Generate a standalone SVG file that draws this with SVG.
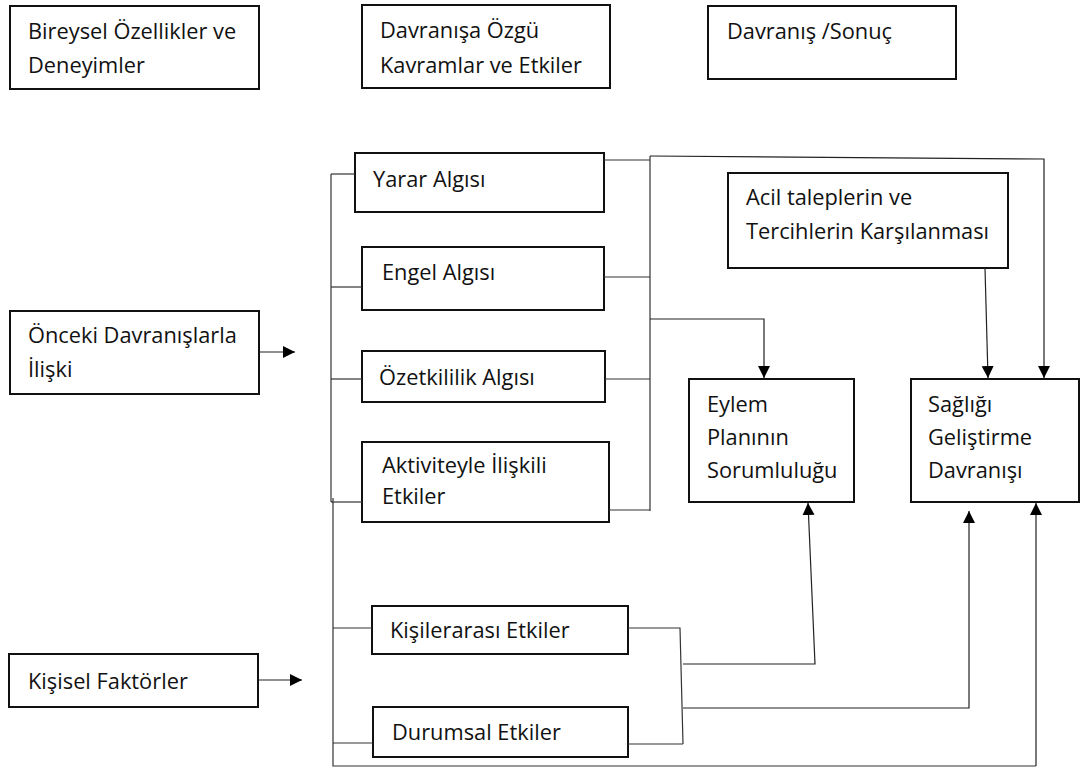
<svg xmlns="http://www.w3.org/2000/svg" width="1082" height="772" viewBox="0 0 1082 772">
<style>
.box{fill:#fff;stroke:#111;stroke-width:2}
.t{font-family:"Open Sans","Noto Sans",sans-serif;font-size:21.8px;fill:#111}
.c{fill:none;stroke:#333;stroke-width:1.2}
.a{fill:none;stroke:#222;stroke-width:1.2;marker-end:url(#ah)}
</style>
<defs>
<marker id="ah" markerUnits="userSpaceOnUse" markerWidth="13" markerHeight="13" refX="12" refY="6" orient="auto">
<path d="M0,0 L12,6 L0,12 z" fill="#000"/>
</marker>
</defs>
<rect width="1082" height="772" fill="#fff"/>
<g id="n-bireysel"><rect class="box" x="10" y="6" width="249" height="83"/><text class="t" x="28" y="39">Bireysel Özellikler ve</text><text class="t" x="28" y="73">Deneyimler</text></g>
<g id="n-davranisa"><rect class="box" x="362" y="5" width="248" height="83"/><text class="t" x="380" y="38">Davranışa Özgü</text><text class="t" x="380" y="73">Kavramlar ve Etkiler</text></g>
<g id="n-sonuc"><rect class="box" x="708" y="6" width="248" height="73"/><text class="t" x="727" y="39">Davranış /Sonuç</text></g>
<g id="n-onceki"><rect class="box" x="10" y="311" width="249" height="83"/><text class="t" x="28" y="343">Önceki Davranışlarla</text><text class="t" x="28" y="377">İlişki</text></g>
<g id="n-kisisel"><rect class="box" x="9" y="654" width="249" height="53"/><text class="t" x="28" y="689">Kişisel Faktörler</text></g>
<g id="n-yarar"><rect class="box" x="355" y="153" width="249" height="59"/><text class="t" x="373" y="187">Yarar Algısı</text></g>
<g id="n-engel"><rect class="box" x="362" y="247" width="242" height="63"/><text class="t" x="382" y="280">Engel Algısı</text></g>
<g id="n-ozet"><rect class="box" x="362" y="351" width="243" height="51"/><text class="t" x="379" y="385">Özetkililik Algısı</text></g>
<g id="n-aktivite"><rect class="box" x="362" y="442" width="247" height="80"/><text class="t" x="382" y="473">Aktiviteyle İlişkili</text><text class="t" x="382" y="504">Etkiler</text></g>
<g id="n-kisiler"><rect class="box" x="372" y="606" width="256" height="48"/><text class="t" x="390" y="638">Kişilerarası Etkiler</text></g>
<g id="n-durumsal"><rect class="box" x="373" y="707" width="255" height="50"/><text class="t" x="392" y="740">Durumsal Etkiler</text></g>
<g id="n-acil"><rect class="box" x="728" y="173" width="280" height="95"/><text class="t" x="746" y="205">Acil taleplerin ve</text><text class="t" x="746" y="239">Tercihlerin Karşılanması</text></g>
<g id="n-eylem"><rect class="box" x="689" y="379" width="165" height="123"/><text class="t" x="707" y="412">Eylem</text><text class="t" x="707" y="445">Planının</text><text class="t" x="707" y="478">Sorumluluğu</text></g>
<g id="n-saglik"><rect class="box" x="911" y="379" width="168" height="123"/><text class="t" x="928" y="412">Sağlığı</text><text class="t" x="928" y="445">Geliştirme</text><text class="t" x="928" y="478">Davranışı</text></g>
<g id="connectors">
<path class="a" d="M259,352 H295"/>
<path class="a" d="M258,680 H302"/>
<path class="c" d="M331,174 V502"/>
<path class="c" d="M333,498 V766 H1036"/>
<path class="c" d="M331,174 H355"/>
<path class="c" d="M331,287 H362"/>
<path class="c" d="M331,379 H362"/>
<path class="c" d="M331,502 H362"/>
<path class="c" d="M333,628 H372"/>
<path class="c" d="M333,743 H373"/>
<path class="c" d="M604,160 H650"/>
<path class="c" d="M604,277 H650"/>
<path class="c" d="M605,379 H650"/>
<path class="c" d="M609,510 H650"/>
<path class="c" d="M650,156 V511"/>
<path class="a" d="M650,156 L1044,159 V378"/>
<path class="a" d="M650,319 H764 V378"/>
<path class="a" d="M985,268 L988,378"/>
<path class="c" d="M628,628 H680 L683,744"/>
<path class="c" d="M628,744 H683"/>
<path class="a" d="M683,664 H815 L808,503"/>
<path class="a" d="M683,708 H969 V511"/>
<path class="a" d="M1036,766 V503"/>
</g>
</svg>
